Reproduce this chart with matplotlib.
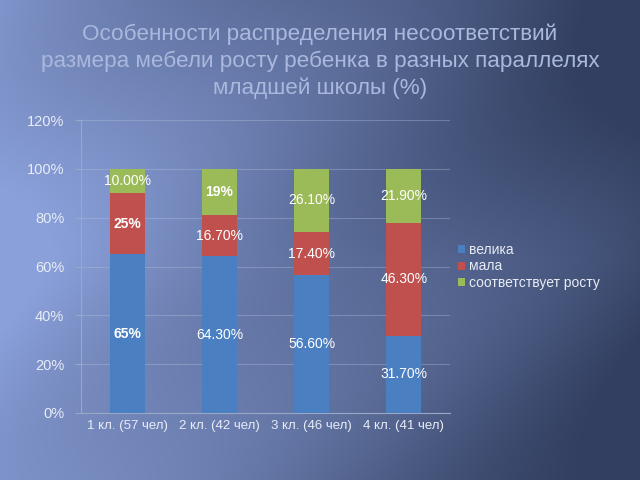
import matplotlib.pyplot as plt
import numpy as np

categories = ['1 кл. (57 чел)', '2 кл. (42 чел)', '3 кл. (46 чел)', '4 кл. (41 чел)']
velika = [65, 64.3, 56.6, 31.7]
mala = [25, 16.7, 17.4, 46.3]
sootv = [10, 19, 26.1, 21.9]
velika_lbl = ['65%', '64.30%', '56.60%', '31.70%']
mala_lbl = ['25%', '16.70%', '17.40%', '46.30%']
sootv_lbl = ['10.00%', '19%', '26.10%', '21.90%']
series_names = ['велика', 'мала', 'соответствует росту']

plt.rcParams['font.family'] = ['Liberation Sans', 'DejaVu Sans']

fig = plt.figure(figsize=(6.4, 4.8), dpi=100)

# background gradient
bg = fig.add_axes([0, 0, 1, 1], zorder=-10)
h, w = 480, 640
yy, xx = np.mgrid[0:h, 0:w]
t = np.clip(xx / w * 0.95 + (1 - np.abs(yy - 260) / 260) * -0.15 + 0.12, 0, 1)
streak = 0.06 * np.sin((xx * 0.6 + yy) / 55.0)
light = np.array([138, 160, 218]) / 255
dark = np.array([50, 63, 96]) / 255
t = np.clip(t + streak, 0, 1)[..., None]
img = light * (1 - t) + dark * t
bg.imshow(img, aspect='auto', extent=[0, 1, 0, 1])
bg.axis('off')

ax = fig.add_axes([81 / 640, 1 - 413 / 480, 369 / 640, 293 / 480])
ax.patch.set_alpha(0)
x = np.arange(len(categories))
bw = 0.38
c_blue, c_red, c_green = '#4a7fc1', '#c0504d', '#9bbb59'
b1 = ax.bar(x, velika, bw, color=c_blue, label=series_names[0], zorder=3)
b2 = ax.bar(x, mala, bw, bottom=velika, color=c_red, label=series_names[1], zorder=3)
bottom2 = np.array(velika) + np.array(mala)
b3 = ax.bar(x, sootv, bw, bottom=bottom2, color=c_green, label=series_names[2], zorder=3)

for bars, lbls, bottoms in [(b1, velika_lbl, np.zeros(4)), (b2, mala_lbl, np.array(velika)),
                            (b3, sootv_lbl, bottom2)]:
    for i, bar in enumerate(bars):
        cy = bottoms[i] + bar.get_height() / 2
        weight = 'bold' if lbls[i] in ('65%', '25%', '19%') else 'normal'
        ax.text(bar.get_x() + bar.get_width() / 2, cy, lbls[i], ha='center', va='center',
                color='white', fontsize=10, fontweight=weight, zorder=5)

ax.set_ylim(0, 120)
ax.set_xlim(-0.5, 3.5)
ax.set_yticks(np.arange(0, 121, 20))
ax.set_yticklabels(['%d%%' % v for v in range(0, 121, 20)])
ax.set_xticks(x)
ax.set_xticklabels(categories)
ax.grid(axis='y', color='#b8c4e0', alpha=0.35, linewidth=0.8, zorder=0)
for s in ['top', 'right']:
    ax.spines[s].set_visible(False)
for s in ['left', 'bottom']:
    ax.spines[s].set_color('#9aa8c8')
ax.tick_params(axis='y', colors='#9aa8c8', labelcolor='#e8ecf6', labelsize=10.5, length=4, pad=8)
ax.tick_params(axis='x', length=0, labelcolor='#e8ecf6', labelsize=9.5, pad=5)

ax.legend(loc='center left', bbox_to_anchor=(1.0, 0.5), frameon=False, fontsize=10,
          labelcolor='#e8ecf6', handlelength=0.5, handleheight=0.5, handletextpad=0.3,
          labelspacing=0.2, borderaxespad=0.2)

fig.text(0.5, 1 - 61 / 480,
         'Особенности распределения несоответствий\nразмера мебели росту ребенка в разных параллелях\nмладшей школы (%)',
         ha='center', va='center', fontsize=16.2, color='#a9b8dc', linespacing=1.33)

fig.savefig('out.png', dpi=100)
